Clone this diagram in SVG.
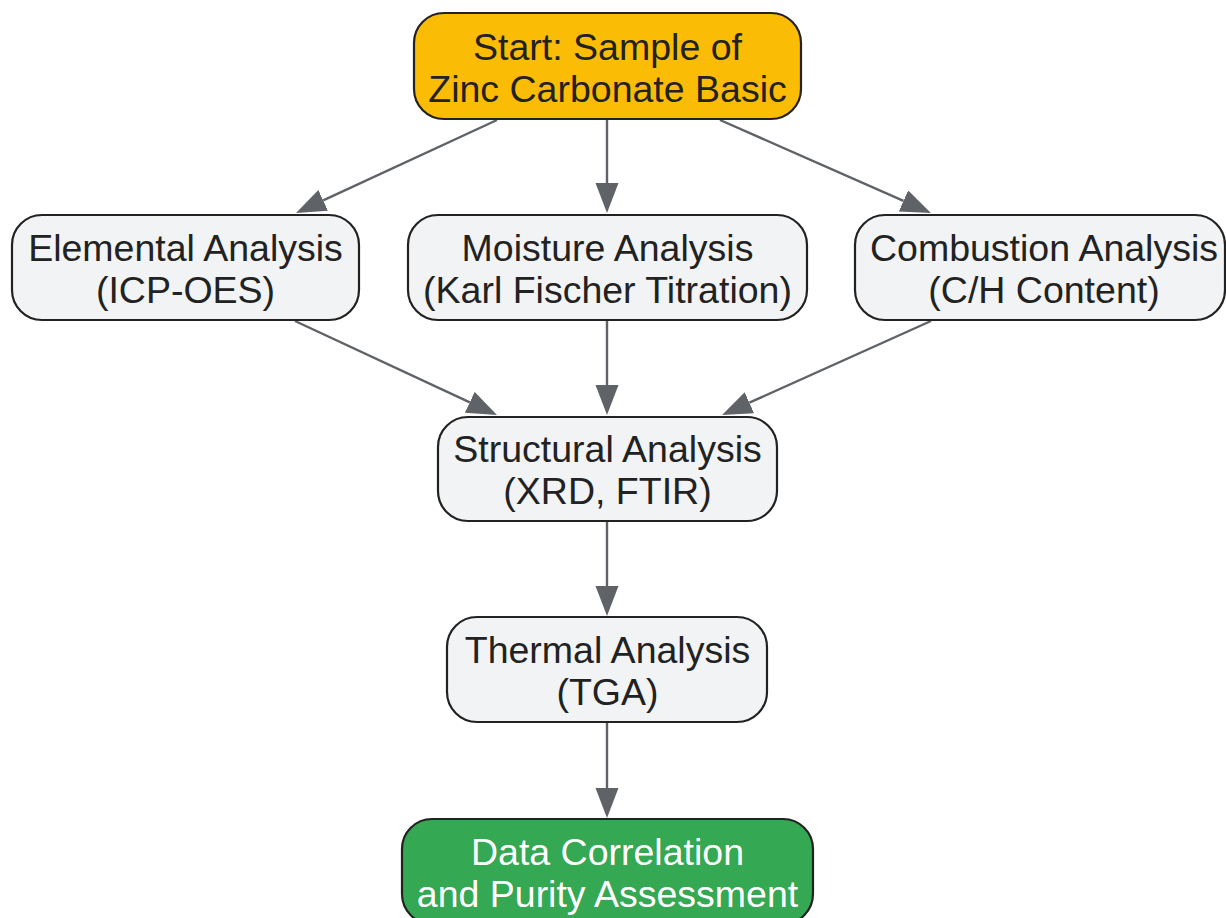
<svg xmlns="http://www.w3.org/2000/svg" width="1226" height="918" viewBox="0 0 1226 918">
<style>
.node rect{stroke:#222222;stroke-width:2.2}
.gray{fill:#f1f3f4}
.start{fill:#fbbc05}
.end{fill:#34a853}
text{font-family:"Liberation Sans",Arial,sans-serif;font-size:37.5px;text-anchor:middle;fill:#222222}
.end-text{fill:#ffffff}
.edge{stroke:#5f6368;stroke-width:2.4;fill:none}
</style>
<defs>
<marker id="arrow" markerUnits="userSpaceOnUse" markerWidth="32" markerHeight="24" refX="0" refY="11.5" orient="auto">
<path d="M0,0 L30,11.5 L0,23 Z" fill="#5f6368"/>
</marker>
</defs>
<rect width="1226" height="918" fill="#ffffff"/>
<g id="connectors">
<line class="edge" x1="497" y1="120" x2="323.2" y2="200.4" marker-end="url(#arrow)"/>
<line class="edge" x1="607" y1="120" x2="607" y2="183" marker-end="url(#arrow)"/>
<line class="edge" x1="720" y1="120" x2="903.5" y2="200.9" marker-end="url(#arrow)"/>
<line class="edge" x1="295" y1="321" x2="469.8" y2="402.3" marker-end="url(#arrow)"/>
<line class="edge" x1="607" y1="321" x2="607" y2="385" marker-end="url(#arrow)"/>
<line class="edge" x1="931" y1="321" x2="749.4" y2="402.7" marker-end="url(#arrow)"/>
<line class="edge" x1="607" y1="522" x2="607" y2="586" marker-end="url(#arrow)"/>
<line class="edge" x1="607" y1="723" x2="607" y2="788" marker-end="url(#arrow)"/>
</g>
<g id="start" class="node">
<rect class="start" x="414" y="13" width="387" height="106" rx="30"/>
<text x="607.5" y="60">Start: Sample of</text>
<text x="607.5" y="102">Zinc Carbonate Basic</text>
</g>
<g id="elemental" class="node">
<rect class="gray" x="12" y="215" width="347" height="105" rx="30"/>
<text x="185.5" y="261">Elemental Analysis</text>
<text x="185.5" y="303">(ICP-OES)</text>
</g>
<g id="moisture" class="node">
<rect class="gray" x="408" y="215" width="399" height="105" rx="30"/>
<text x="607.5" y="261">Moisture Analysis</text>
<text x="607.5" y="303">(Karl Fischer Titration)</text>
</g>
<g id="combustion" class="node">
<rect class="gray" x="855" y="215" width="370" height="105" rx="30"/>
<text x="1044" y="261">Combustion Analysis</text>
<text x="1044" y="303">(C/H Content)</text>
</g>
<g id="structural" class="node">
<rect class="gray" x="438" y="417" width="339" height="104" rx="30"/>
<text x="607.5" y="462">Structural Analysis</text>
<text x="607.5" y="504">(XRD, FTIR)</text>
</g>
<g id="thermal" class="node">
<rect class="gray" x="447" y="617" width="320" height="105" rx="30"/>
<text x="607.5" y="663">Thermal Analysis</text>
<text x="607.5" y="705">(TGA)</text>
</g>
<g id="data" class="node">
<rect class="end" x="402" y="819" width="411" height="105" rx="30"/>
<text class="end-text" x="607.5" y="865">Data Correlation</text>
<text class="end-text" x="607.5" y="907">and Purity Assessment</text>
</g>
</svg>
